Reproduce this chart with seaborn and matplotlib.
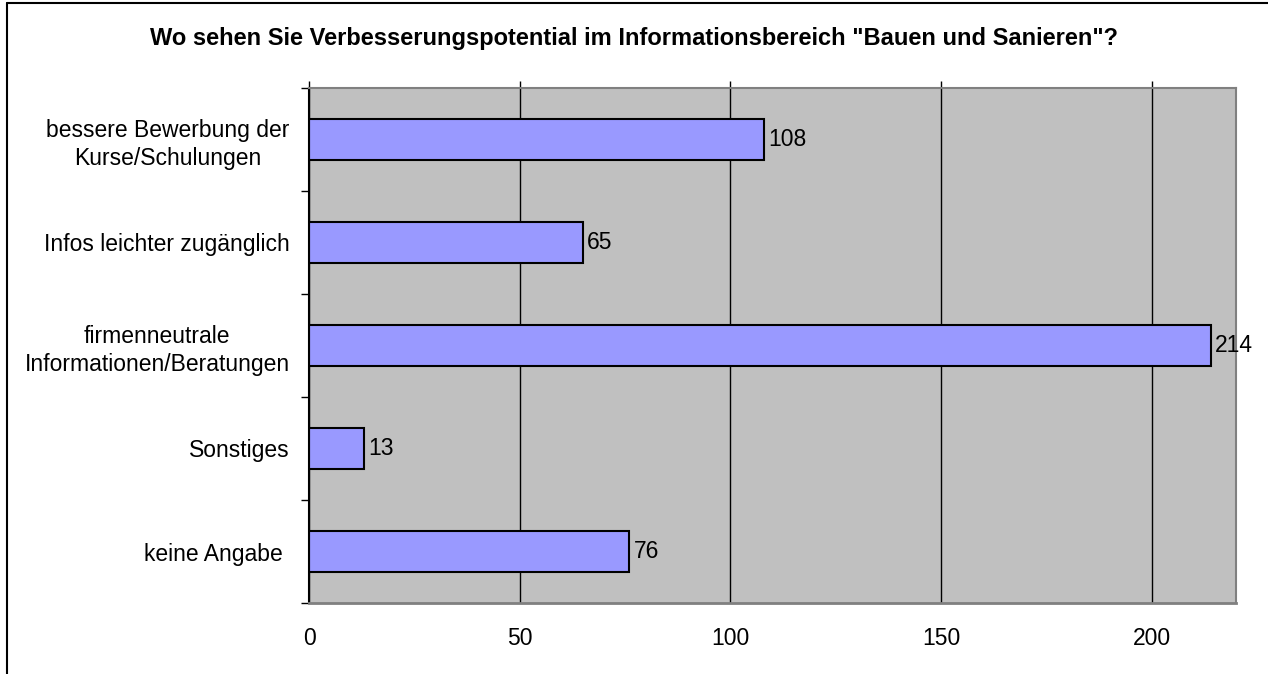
import numpy as np
import pandas as pd
import matplotlib
matplotlib.use("Agg")
import matplotlib.pyplot as plt
from matplotlib.lines import Line2D
import seaborn as sns

# Daten
kategorien = [
    "bessere Bewerbung der\nKurse/Schulungen",
    "Infos leichter zugänglich",
    "firmenneutrale\nInformationen/Beratungen",
    "Sonstiges",
    "keine Angabe ",
]
anzahl = [108, 65, 214, 13, 76]
x_ticks = [0, 50, 100, 150, 200]
titel = 'Wo sehen Sie Verbesserungspotential im Informationsbereich "Bauen und Sanieren"?'

df = pd.DataFrame({"kategorie": kategorien, "anzahl": anzahl})

sns.set_theme(style="white")
plt.rcParams["font.family"] = ["Liberation Sans", "DejaVu Sans"]
plt.rcParams["text.color"] = "black"
plt.rcParams["xtick.labelcolor"] = "black"
plt.rcParams["ytick.labelcolor"] = "black"

fs = 16.5

fig = plt.figure(figsize=(12.68, 6.74), dpi=100)
ax = fig.add_axes([309 / 1268, 1 - 603 / 674, (1236 - 309) / 1268, (603 - 88) / 674])
ax.set_facecolor("#C0C0C0")

sns.barplot(data=df, x="anzahl", y="kategorie", orient="h", color="#9999FF",
            saturation=1, width=0.4, edgecolor="black", linewidth=1.5, ax=ax)

# Werte an den Balken
for c in ax.containers:
    ax.bar_label(c, labels=[str(v) for v in anzahl], padding=3, fontsize=fs,
                 color="black")

ax.set_xlim(0, 220)
ax.set_ylim(len(kategorien) - 0.5, -0.5)
ax.set_xticks(x_ticks)
ax.set_xlabel("")
ax.set_ylabel("")

# Gitterlinien
ax.grid(axis="x", color="black", linewidth=1)
ax.grid(axis="y", visible=False)
ax.set_axisbelow(True)

ax.tick_params(axis="x", top=True, bottom=False, labeltop=False, labelbottom=True,
               direction="out", length=5, width=1, color="black", pad=12, labelsize=fs)
ax.tick_params(axis="y", which="major", length=0, pad=14, labelsize=fs)
ax.set_yticks(np.arange(-0.5, len(kategorien)), minor=True)
ax.tick_params(axis="y", which="minor", left=True, direction="out", length=6,
               width=1, color="black")
for lbl in ax.get_yticklabels():
    lbl.set_multialignment("center")
    lbl.set_linespacing(1.25)

for s in ["top", "right"]:
    ax.spines[s].set_color("#808080")
    ax.spines[s].set_linewidth(1.5)
ax.spines["bottom"].set_color("#808080")
ax.spines["bottom"].set_linewidth(2)
ax.spines["left"].set_color("black")
ax.spines["left"].set_linewidth(1.5)

fig.text(0.5, 1 - 39 / 674, titel, ha="center", va="center",
         fontsize=17, fontweight="bold")

# Rahmen um das Diagramm
fig.add_artist(Line2D([7 / 1268, 7 / 1268], [0, 1 - 3 / 674], color="black",
                      linewidth=1.5, transform=fig.transFigure))
fig.add_artist(Line2D([7 / 1268, 1], [1 - 3 / 674, 1 - 3 / 674], color="black",
                      linewidth=1.5, transform=fig.transFigure))

fig.savefig("out.png", dpi=100)
